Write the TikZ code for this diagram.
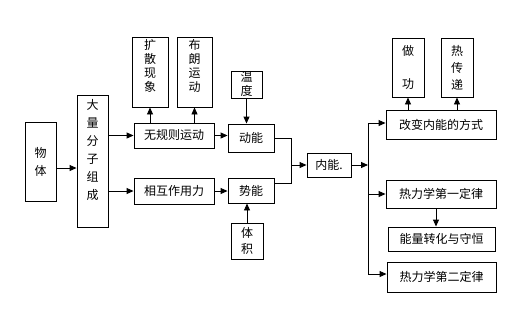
\documentclass[tikz,border=0pt]{standalone}
\usepackage{fontspec}
\setmainfont{Noto Sans CJK SC}
\usetikzlibrary{arrows.meta}

\begin{document}
\begin{tikzpicture}[x=1pt, y=-1pt, line width=0.9pt,
  blk/.style={draw, inner sep=0pt, align=center, font=\fontsize{12}{15}\selectfont},
  arr/.style={-{Triangle[length=7pt, width=6pt]}}]
  \useasboundingbox (0,0) rectangle (521,308);

  % 左侧：物体 -> 大量分子组成
  \node[blk, minimum width=31, minimum height=79, font=\fontsize{12}{18}\selectfont] (wuti) at (40.5,161.5) {物\\体};
  \node[blk, minimum width=31, minimum height=132, font=\fontsize{12}{18}\selectfont] (daliang) at (92.5,161) {大\\量\\分\\子\\组\\成\\[6pt]};
  \draw[arr] (wuti.east |- 0,168) -- (daliang.west |- 0,168);

  % 分子运动与作用力
  \node[blk, minimum width=80, minimum height=25] (wuguize) at (174,135.5) {无规则运动};
  \node[blk, minimum width=80, minimum height=26] (xianghu) at (174,191) {相互作用力};
  \draw[arr] (daliang.east |- wuguize.west) -- (wuguize.west);
  \draw[arr] (daliang.east |- xianghu.west) -- (xianghu.west);

  % 上方：扩散现象、布朗运动
  \node[blk, minimum width=36, minimum height=70, font=\fontsize{12}{14}\selectfont] (kuosan) at (150,72) {扩\\散\\现\\象\\~};
  \node[blk, minimum width=35, minimum height=70, font=\fontsize{12}{14}\selectfont] (bulang) at (194.5,72) {布\\朗\\运\\动\\~};
  \draw[arr] (wuguize.north -| kuosan.south) -- (kuosan.south);
  \draw[arr] (wuguize.north -| bulang.south) -- (bulang.south);

  % 动能、势能
  \node[blk, minimum width=46, minimum height=28] (dongneng) at (251,138) {动能};
  \node[blk, minimum width=46, minimum height=25] (shineng) at (251,190.5) {势能};
  \node[blk, minimum width=31, minimum height=27, font=\fontsize{12}{14}\selectfont] (wendu) at (246.5,84.5) {温\\度};
  \node[blk, minimum width=32, minimum height=36, font=\fontsize{12}{16}\selectfont] (tiji) at (247,241) {体\\积};
  \draw[arr] (wuguize.east) -- (dongneng.west |- wuguize.east);
  \draw[arr] (xianghu.east) -- (shineng.west |- xianghu.east);
  \draw[arr] (wendu.south) -- (wendu.south |- dongneng.north);
  \draw[arr] (tiji.north) -- (tiji.north |- shineng.south);

  % 汇合到内能
  \node[blk, minimum width=44, minimum height=24] (neineng) at (329,165) {内能.};
  \coordinate (merge) at (291,165);
  \coordinate (fork) at (368,165);
  \draw (dongneng.east) -| (merge);
  \draw (shineng.east |- 0,183) -| (merge);
  \draw[arr] (merge) -- (neineng.west);
  \draw[arr] (neineng.east) -- (fork);

  % 右侧分支
  \node[blk, minimum width=110, minimum height=29] (gaibian) at (441,124.5) {改变内能的方式};
  \node[blk, minimum width=110, minimum height=28] (diyi) at (441,194) {热力学第一定律};
  \node[blk, minimum width=107, minimum height=24] (nengliang) at (441.5,239) {能量转化与守恒};
  \node[blk, minimum width=109, minimum height=30] (dier) at (441.5,277) {热力学第二定律};
  \draw[arr] (fork) |- ([yshift=1.5pt]gaibian.west);
  \draw[arr] (fork) |- (diyi.west);
  \draw[arr] (fork) |- ([yshift=3pt]dier.west);
  \draw[arr] ([xshift=-5pt]diyi.south) -- ([xshift=-5pt]diyi.south |- nengliang.north);

  % 做功、热传递
  \node[blk, minimum width=32, minimum height=59, font=\fontsize{12}{17}\selectfont] (zuogong) at (408,67.5) {做\\[16pt]功};
  \node[blk, minimum width=32, minimum height=59, font=\fontsize{12}{17}\selectfont] (rechuandi) at (457,67.5) {热\\传\\递};
  \draw[arr] (gaibian.north -| zuogong.south) -- (zuogong.south);
  \draw[arr] (gaibian.north -| rechuandi.south) -- (rechuandi.south);
\end{tikzpicture}
\end{document}
